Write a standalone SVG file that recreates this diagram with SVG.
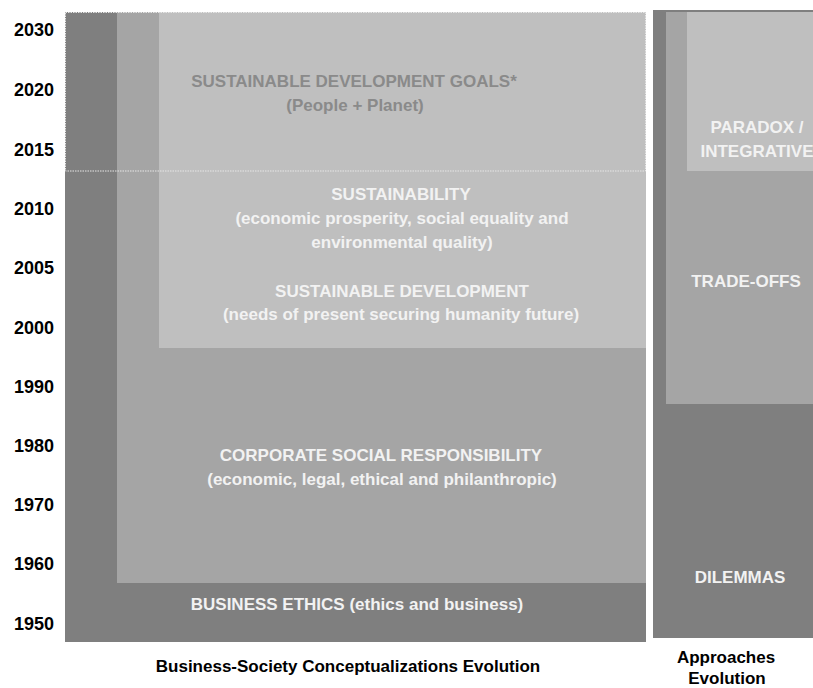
<svg xmlns="http://www.w3.org/2000/svg" width="813" height="688" viewBox="0 0 813 688">
<style>
text{font-family:"Liberation Sans",Arial,sans-serif;font-weight:bold;font-size:17px}
.yr{fill:#000;font-size:18px}
.lbl{fill:#f2f2f2;text-anchor:middle}
.sdg{fill:#8a8a8a;text-anchor:middle}
.ttl{fill:#000;text-anchor:middle}
.dark{fill:#7f7f7f}
.mid{fill:#a5a5a5}
.light{fill:#bfbfbf}
</style>
<rect width="813" height="688" fill="#ffffff"/>
<g id="years">
<text class="yr" x="14" y="36">2030</text>
<text class="yr" x="14" y="96">2020</text>
<text class="yr" x="14" y="156">2015</text>
<text class="yr" x="14" y="215">2010</text>
<text class="yr" x="14" y="274">2005</text>
<text class="yr" x="14" y="334">2000</text>
<text class="yr" x="14" y="393">1990</text>
<text class="yr" x="14" y="452">1980</text>
<text class="yr" x="14" y="511">1970</text>
<text class="yr" x="14" y="570">1960</text>
<text class="yr" x="14" y="630">1950</text>
</g>
<g id="business-ethics">
<rect class="dark" x="65" y="12" width="581" height="630"/>
<text class="lbl" x="357" y="610">BUSINESS ETHICS (ethics and business)</text>
</g>
<g id="csr">
<rect class="mid" x="117" y="12" width="529" height="571"/>
<text class="lbl" x="381" y="461">CORPORATE SOCIAL RESPONSIBILITY</text>
<text class="lbl" x="382" y="485">(economic, legal, ethical and philanthropic)</text>
</g>
<g id="sustainability">
<rect class="light" x="159" y="12" width="487" height="336"/>
<text class="lbl" x="401" y="200">SUSTAINABILITY</text>
<text class="lbl" x="402" y="224">(economic prosperity, social equality and</text>
<text class="lbl" x="402" y="248">environmental quality)</text>
<text class="lbl" x="402" y="297">SUSTAINABLE DEVELOPMENT</text>
<text class="lbl" x="401" y="320">(needs of present securing humanity future)</text>
</g>
<g id="sdg">
<rect x="65.5" y="12.5" width="580" height="158.5" fill="none" stroke="#e6e6e6" stroke-width="1" stroke-dasharray="1.5,1"/>
<text class="sdg" x="354" y="87">SUSTAINABLE DEVELOPMENT GOALS*</text>
<text class="sdg" x="355" y="111">(People + Planet)</text>
</g>
<g id="dilemmas">
<rect class="dark" x="653" y="10" width="160" height="628"/>
<text class="lbl" x="740" y="583">DILEMMAS</text>
</g>
<g id="trade-offs">
<rect class="mid" x="666" y="12" width="147" height="392"/>
<text class="lbl" x="746" y="287">TRADE-OFFS</text>
</g>
<g id="paradox">
<rect class="light" x="687" y="12" width="126" height="159"/>
<text class="lbl" x="757" y="133">PARADOX /</text>
<text class="lbl" x="757" y="157">INTEGRATIVE</text>
</g>
<g id="captions">
<text class="ttl" x="348" y="672">Business-Society Conceptualizations Evolution</text>
<text class="ttl" x="726" y="663">Approaches</text>
<text class="ttl" x="727" y="684">Evolution</text>
</g>
<g id="connectors"></g>
</svg>
